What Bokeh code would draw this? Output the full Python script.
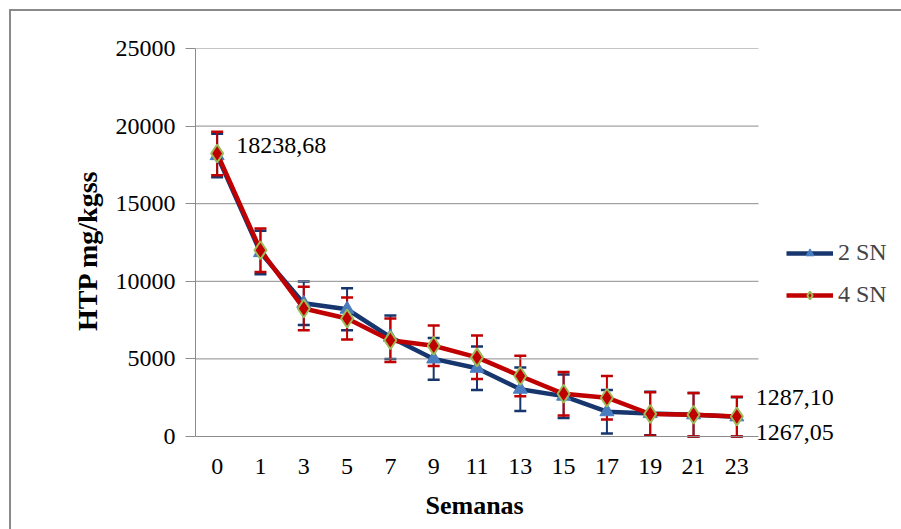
from bokeh.plotting import figure
from bokeh.models import (ColumnDataSource, Range1d, Whisker, TeeHead, Title,
                          Legend, LegendItem, FixedTicker, NumeralTickFormatter, LabelSet)
from bokeh.embed import file_html
from bokeh.resources import INLINE

# Weeks (categorical axis) and HTP concentration per treatment
semanas = ["0", "1", "3", "5", "7", "9", "11", "13", "15", "17", "19", "21", "23"]
sn2 = [18100, 11850, 8580, 8200, 6400, 5000, 4400, 3050, 2600, 1600, 1480, 1400, 1267.05]
sn2_err = [1400, 1400, 1400, 1350, 1400, 1350, 1400, 1400, 1400, 1400, 1400, 1400, 1260]
sn4 = [18238.68, 12000, 8250, 7600, 6200, 5850, 5100, 3900, 2750, 2500, 1450, 1400, 1287.10]
sn4_err = [1400, 1400, 1400, 1350, 1400, 1300, 1400, 1300, 1400, 1400, 1400, 1400, 1280]
y_ticks = [0, 5000, 10000, 15000, 20000, 25000]
y_max = 25000

FONT = "Liberation Serif"
BLUE = "#17366e"
BLUE_FILL = "#4a7cc0"
RED = "#c00000"
GREEN = "#9bbb59"
GRID = "#8c8c8c"

# each week occupies one unit slot; points sit at the slot centres
n = len(semanas)
pos = [i + 0.5 for i in range(n)]
PLOT_W, PLOT_H = 563, 388   # size of the value area in px
FRAME_W = 700               # frame extends right so legend / labels have room
EXT_B = 16                  # and a little below zero for the last label
x_end = n * FRAME_W / PLOT_W
y_start = -EXT_B * y_max / PLOT_H


def fmt(v):
    return f"{v:.2f}".replace(".", ",")


src2 = ColumnDataSource(dict(x=pos, y=sn2,
                             lo=[v - e for v, e in zip(sn2, sn2_err)],
                             hi=[v + e for v, e in zip(sn2, sn2_err)]))
src4 = ColumnDataSource(dict(x=pos, y=sn4,
                             lo=[v - e for v, e in zip(sn4, sn4_err)],
                             hi=[v + e for v, e in zip(sn4, sn4_err)]))

p = figure(width=890, height=518, output_backend="svg", toolbar_location=None,
           x_range=Range1d(0, x_end), y_range=Range1d(y_start, y_max),
           frame_width=FRAME_W, frame_height=PLOT_H + EXT_B,
           min_border_left=184, min_border_right=6,
           min_border_top=37, min_border_bottom=93 - EXT_B,
           styles={"margin-left": "9px", "margin-top": "9px",
                   "border-left": "2px solid #8a8a8a",
                   "border-top": "2px solid #8a8a8a"})
p.outline_line_color = None
p.background_fill_color = "white"
p.border_fill_color = "white"

# horizontal grid lines (including the zero line) limited to the category area
p.xgrid.grid_line_color = None
p.ygrid.grid_line_color = None
p.segment(x0=[0] * len(y_ticks), x1=[n] * len(y_ticks), y0=y_ticks, y1=y_ticks,
          line_color=GRID, line_width=1)

# axes
p.yaxis.ticker = FixedTicker(ticks=y_ticks)
p.yaxis.formatter = NumeralTickFormatter(format="0")
p.yaxis.bounds = (0, y_max)
p.xaxis.ticker = FixedTicker(ticks=pos)
p.xaxis.major_label_overrides = {x: s for x, s in zip(pos, semanas)}
for ax in (p.xaxis[0], p.yaxis[0]):
    ax.axis_line_color = GRID
    ax.axis_line_width = 1
    ax.major_label_text_font = FONT
    ax.major_label_text_font_size = "24px"
    ax.major_label_text_color = "#000000"
    ax.axis_label_text_font = FONT
    ax.axis_label_text_font_style = "bold"
    ax.axis_label_text_color = "#000000"
    ax.minor_tick_line_color = None
p.yaxis.major_tick_line_color = GRID
p.yaxis.major_tick_out = 10
p.yaxis.major_tick_in = 0
p.yaxis.major_label_standoff = 10
p.yaxis.axis_label = "HTP mg/kgss"
p.yaxis.axis_label_standoff = 10
p.yaxis.axis_label_text_font_size = "28px"
p.xaxis.axis_line_color = None
p.xaxis.major_tick_line_color = None
p.xaxis.major_label_standoff = 14 - EXT_B + 2

# x axis title, centred under the category area
p.add_layout(Title(text="Semanas", align="left", offset=230, standoff=24,
                   text_font=FONT, text_font_size="26px", text_font_style="bold",
                   text_color="#000000"), "below")

# 2 SN series
l2 = p.line("x", "y", source=src2, line_color=BLUE, line_width=4.5)
p.add_layout(Whisker(base="x", upper="hi", lower="lo", source=src2,
                     line_color=BLUE, line_width=2,
                     upper_head=TeeHead(size=12, line_color=BLUE, line_width=2.5),
                     lower_head=TeeHead(size=12, line_color=BLUE, line_width=2.5)))
m2 = p.scatter("x", "y", source=src2, marker="triangle", size=14,
               fill_color=BLUE_FILL, line_color=BLUE_FILL, line_width=1)

# 4 SN series
l4 = p.line("x", "y", source=src4, line_color=RED, line_width=4.5)
p.add_layout(Whisker(base="x", upper="hi", lower="lo", source=src4,
                     line_color=RED, line_width=2,
                     upper_head=TeeHead(size=12, line_color=RED, line_width=2.5),
                     lower_head=TeeHead(size=12, line_color=RED, line_width=2.5)))
m4 = p.scatter("x", "y", source=src4, marker="diamond", size=18,
               fill_color=RED, line_color=GREEN, line_width=2)

# data labels (first and last points)
lab = ColumnDataSource(dict(x=[pos[0], pos[-1], pos[-1]],
                            y=[sn4[0], sn4[-1], sn2[-1]],
                            t=[fmt(sn4[0]), fmt(sn4[-1]), fmt(sn2[-1])],
                            dy=[8, 19, -16]))
p.add_layout(LabelSet(x="x", y="y", text="t", source=lab, x_offset=19, y_offset="dy",
                      text_font=FONT, text_font_size="24px", text_color="#000000",
                      text_baseline="middle", text_align="left"))

legend = Legend(items=[LegendItem(label="2 SN", renderers=[l2, m2]),
                       LegendItem(label="4 SN", renderers=[l4, m4])],
                location=(591, 144), orientation="vertical",
                glyph_width=47, glyph_height=20, label_height=20, spacing=15,
                padding=0, margin=0, label_standoff=5,
                label_text_font=FONT, label_text_font_size="24px",
                border_line_color=None, background_fill_alpha=0)
p.add_layout(legend, "center")

open("out.html", "w").write(file_html(p, INLINE))
